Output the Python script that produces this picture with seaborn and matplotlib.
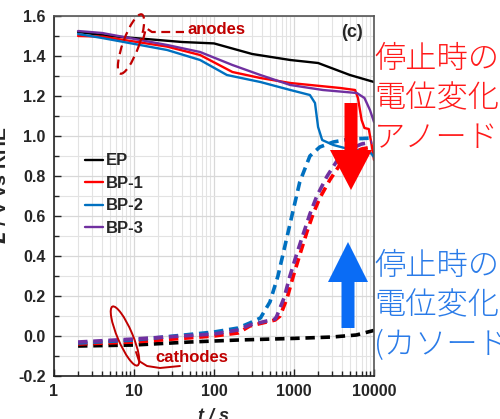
import numpy as np
import pandas as pd
import matplotlib
matplotlib.use('Agg')
import matplotlib.pyplot as plt
import matplotlib.patches as mpatches
from matplotlib.ticker import LogLocator, MultipleLocator, NullFormatter, FixedLocator
import seaborn as sns

# anode potentials (solid lines)
ep_an_t = [2, 5, 10, 40, 100, 300, 900, 2000, 5000, 10000]
ep_an_E = [1.52, 1.50, 1.49, 1.47, 1.463, 1.41, 1.38, 1.365, 1.305, 1.27]

bp1_an_t = [2, 4, 26, 67, 170, 380, 900, 3800, 5800, 6300, 7000, 7600, 8600, 9400, 10000]
bp1_an_E = [1.50, 1.497, 1.447, 1.405, 1.32, 1.29, 1.265, 1.24, 1.23, 1.19, 1.08, 1.04, 1.035, 0.95, 0.88]

bp2_an_t = [2, 4, 26, 67, 145, 380, 900, 1580, 1830, 2000, 2250, 3100, 4300, 8900, 10000]
bp2_an_E = [1.51, 1.49, 1.43, 1.38, 1.305, 1.27, 1.23, 1.205, 1.165, 1.045, 0.98, 0.955, 0.94, 0.92, 0.895]

bp3_an_t = [2, 4, 26, 67, 170, 380, 900, 2300, 6100, 7600, 8900, 10000]
bp3_an_E = [1.525, 1.515, 1.455, 1.42, 1.355, 1.305, 1.255, 1.23, 1.215, 1.19, 1.13, 1.07]

# cathode potentials (dashed lines)
ep_ca_t = [2, 10, 50, 200, 1000, 3000, 6000, 8000, 10000]
ep_ca_E = [-0.05, -0.045, -0.03, -0.02, -0.012, -0.005, 0.005, 0.018, 0.028]

bp1_ca_t = [2, 10, 100, 200, 280, 580, 670, 820, 980, 1190, 1450, 1730, 2100, 2800, 3800, 5000, 7000, 9500]
bp1_ca_E = [-0.04, -0.03, 0.0, 0.015, 0.05, 0.08, 0.10, 0.19, 0.30, 0.41, 0.52, 0.61, 0.69, 0.78, 0.86, 0.91, 0.935, 0.945]

bp2_ca_t = [2, 10, 100, 200, 280, 380, 500, 630, 770, 940, 1180, 1580, 2100, 3100, 5000, 9800]
bp2_ca_E = [-0.035, -0.02, 0.02, 0.04, 0.065, 0.09, 0.17, 0.30, 0.45, 0.60, 0.77, 0.90, 0.945, 0.97, 0.985, 0.99]

bp3_ca_t = [2, 10, 100, 200, 280, 580, 610, 750, 890, 1080, 1330, 1580, 1930, 2600, 3500, 5000, 7000, 9500]
bp3_ca_E = [-0.03, -0.015, 0.01, 0.03, 0.055, 0.085, 0.10, 0.19, 0.30, 0.41, 0.52, 0.61, 0.70, 0.80, 0.88, 0.935, 0.96, 0.97]

samples = ['EP', 'BP-1', 'BP-2', 'BP-3']
sample_colors = {'EP': 'black', 'BP-1': '#ff0000', 'BP-2': '#0070c0', 'BP-3': '#7030a0'}

x_ticks = [1, 10, 100, 1000, 10000]
x_tick_labels = ['1', '10', '100', '1000', '10000']
y_ticks = [-0.2, 0.0, 0.2, 0.4, 0.6, 0.8, 1.0, 1.2, 1.4, 1.6]

jp_anode = '停止時の\n電位変化\nアノード'
jp_cathode = '停止時の\n電位変化\n(カソード'

ANNOT_RED = '#c00000'


def build_frame():
    series = {
        ('EP', 'anode'): (ep_an_t, ep_an_E),
        ('BP-1', 'anode'): (bp1_an_t, bp1_an_E),
        ('BP-2', 'anode'): (bp2_an_t, bp2_an_E),
        ('BP-3', 'anode'): (bp3_an_t, bp3_an_E),
        ('EP', 'cathode'): (ep_ca_t, ep_ca_E),
        ('BP-1', 'cathode'): (bp1_ca_t, bp1_ca_E),
        ('BP-2', 'cathode'): (bp2_ca_t, bp2_ca_E),
        ('BP-3', 'cathode'): (bp3_ca_t, bp3_ca_E),
    }
    frames = []
    for (name, electrode), (t, E) in series.items():
        frames.append(pd.DataFrame({'t': t, 'E': E, 'sample': name, 'electrode': electrode}))
    return pd.concat(frames, ignore_index=True)


def px(x, y):
    # figure pixel (from top-left) -> inches for dpi_scale_trans
    return x / 100.0, (419 - y) / 100.0


sns.set_style('ticks')
plt.rcParams['font.family'] = ['Liberation Sans', 'DejaVu Sans']
plt.rcParams['font.weight'] = 'bold'

df = build_frame()

fig = plt.figure(figsize=(5, 4.19), dpi=100)
ax = fig.add_axes([0.108, 0.1026, 0.64, 0.8592])

an = df[df.electrode == 'anode']
ca = df[df.electrode == 'cathode']

sns.lineplot(ax=ax, data=an, x='t', y='E', hue='sample', hue_order=samples,
             palette=sample_colors, estimator=None, sort=False, lw=1.7, legend=False)
sns.lineplot(ax=ax, data=ca, x='t', y='E', hue='sample', hue_order=samples,
             palette=sample_colors, estimator=None, sort=False, lw=2.6, legend=False)
for line in ax.lines[len(samples):]:
    line.set_dashes((2.6, 1.6))

ax.set_xscale('log')
ax.set_xlim(1, 10000)
ax.set_ylim(-0.2, 1.6)

ax.xaxis.set_major_locator(FixedLocator(x_ticks))
ax.set_xticklabels(x_tick_labels)
ax.xaxis.set_minor_locator(LogLocator(base=10, subs=np.arange(2, 10)))
ax.xaxis.set_minor_formatter(NullFormatter())
ax.set_yticks(y_ticks)
ax.set_yticklabels(['{:.1f}'.format(v) for v in y_ticks])
ax.yaxis.set_minor_locator(MultipleLocator(0.1))

ax.tick_params(which='both', direction='in', top=False, right=False, labelsize=11.5, width=1.0, color='#222222')
ax.tick_params(which='major', length=5, pad=6)
ax.tick_params(which='minor', length=3.5)
for lab in ax.get_xticklabels() + ax.get_yticklabels():
    lab.set_fontweight('bold')

ax.grid(which='major', color='#d8d8d8', lw=0.9)
ax.grid(which='minor', color='#e3e3e3', lw=0.8)
ax.set_axisbelow(True)
for side in ['left', 'bottom']:
    ax.spines[side].set_color('#222222')
    ax.spines[side].set_linewidth(1.2)
for side in ['top', 'right']:
    ax.spines[side].set_color('#555555')
    ax.spines[side].set_linewidth(1.2)

ax.set_xlabel('')
ax.set_ylabel('')

# legend for the anode lines only
handles = [plt.Line2D([], [], color=sample_colors[s], lw=1.7) for s in samples]
leg = ax.legend(handles, samples, loc='upper left', bbox_to_anchor=(0.05, 0.66), frameon=False,
                handlelength=1.1, handletextpad=0.15, labelspacing=0.45,
                prop={'size': 12, 'weight': 'bold'})

ax.text(0.93, 0.955, '(c)', transform=ax.transAxes, ha='center', va='center', size=13, weight='bold')

# axis titles
fig.text(0.002, 1 - 185 / 419, r'$\boldsymbol{E}$ / V vs RHE', rotation=90, ha='center', va='center',
         size=14, weight='bold')
fig.text(214 / 500, 1 - 408 / 419, 't / s', ha='center', va='top', size=13, weight='bold', style='italic')

tr = fig.dpi_scale_trans

# anode ellipse + dashed pointer
cx, cy = px(131, 44)
fig.add_artist(mpatches.Ellipse((cx, cy), 0.63, 0.16, angle=70, transform=tr, fill=False,
                                ec=ANNOT_RED, lw=1.6, ls=(0, (4, 2.5))))
path_x, path_y = zip(*[px(143, 40), px(146, 28), px(152, 32), px(184, 32)])
fig.add_artist(plt.Line2D(path_x, path_y, transform=tr, color=ANNOT_RED, lw=1.6, ls=(0, (4, 2.5))))
fig.text(188 / 500, 1 - 29 / 419, 'anodes', ha='left', va='center', size=12, weight='bold', color=ANNOT_RED)

# cathode ellipse + tail
cx, cy = px(125, 336)
fig.add_artist(mpatches.Ellipse((cx, cy), 0.64, 0.15, angle=113, transform=tr, fill=False,
                                ec=ANNOT_RED, lw=1.4))
path_x, path_y = zip(*[px(136, 352), px(139, 361), px(147, 366), px(160, 368), px(180, 366)])
fig.add_artist(plt.Line2D(path_x, path_y, transform=tr, color=ANNOT_RED, lw=1.4))
fig.text(155 / 500, 1 - 357 / 419, 'cathodes', ha='left', va='center', size=12, weight='bold', color=ANNOT_RED)

# big arrows
x0, y0 = px(351, 103)
fig.add_artist(mpatches.FancyArrow(x0, y0, 0, -0.87, width=0.13, head_width=0.42, head_length=0.40,
                                   length_includes_head=True, transform=tr, color='#ff0000', lw=0))
x0, y0 = px(348, 328)
fig.add_artist(mpatches.FancyArrow(x0, y0, 0, 0.86, width=0.13, head_width=0.40, head_length=0.40,
                                   length_includes_head=True, transform=tr, color='#0a6cf5', lw=0))

# Japanese notes
fig.text(374 / 500, 1 - 43 / 419, jp_anode, ha='left', va='top', size=22.5, color='#ff1a1a',
         family=['Noto Sans CJK JP', 'DejaVu Sans'], weight='light', linespacing=1.3)
fig.text(374 / 500, 1 - 250 / 419, jp_cathode, ha='left', va='top', size=22.5, color='#2a7be8',
         family=['Noto Sans CJK JP', 'DejaVu Sans'], weight='light', linespacing=1.3)

plt.savefig('out.png', dpi=100)
plt.close()
